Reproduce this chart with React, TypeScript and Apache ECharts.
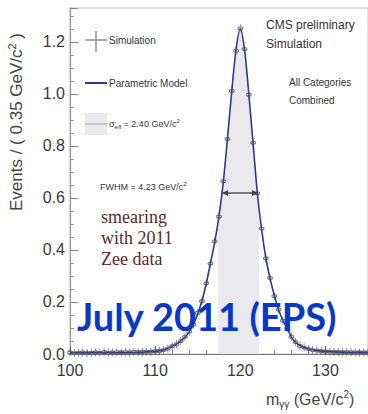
import React, { useEffect, useRef } from "react";
import * as echarts from "echarts";

// Parametric model curve: [mass (GeV/c^2), events]
const modelMass = [100, 102, 104, 106, 108, 109, 110, 111, 112, 112.5, 113, 113.5, 114, 114.5, 115, 115.5, 116, 116.5, 117, 117.5, 118, 118.5, 119, 119.5, 120, 120.5, 121, 121.5, 122, 122.5, 123, 123.5, 124, 124.5, 125, 125.5, 126, 126.5, 127, 127.5, 128, 129, 130, 131, 133, 135];
const modelValues = [0.005, 0.005, 0.006, 0.006, 0.007, 0.008, 0.010, 0.015, 0.030, 0.038, 0.050, 0.065, 0.085, 0.115, 0.155, 0.205, 0.27, 0.35, 0.43, 0.53, 0.66, 0.83, 1.01, 1.17, 1.25, 1.17, 1.00, 0.81, 0.62, 0.48, 0.37, 0.29, 0.225, 0.17, 0.13, 0.10, 0.065, 0.045, 0.032, 0.025, 0.019, 0.013, 0.010, 0.008, 0.007, 0.006];

// Simulation points
const simMass = [100, 100.5, 101, 101.5, 102, 102.5, 103, 103.5, 104, 104.5, 105, 105.5, 106, 106.5, 107, 107.5, 108, 108.5, 109, 109.5, 110, 110.5, 111, 111.5, 112, 112.5, 113, 113.5, 114, 114.5, 115, 115.5, 116, 116.5, 117, 117.5, 118, 118.5, 119, 119.5, 120, 120.5, 121, 121.5, 122, 122.5, 123, 123.5, 124, 124.5, 125, 125.5, 126, 126.5, 127, 127.5, 128, 128.5, 129, 129.5, 130, 130.5, 131, 131.5, 132, 132.5, 133, 133.5, 134, 134.5, 135];
const simValues = [0.006, 0.004, 0.005, 0.006, 0.004, 0.005, 0.006, 0.005, 0.007, 0.005, 0.006, 0.007, 0.006, 0.007, 0.006, 0.008, 0.007, 0.008, 0.009, 0.009, 0.011, 0.012, 0.015, 0.021, 0.030, 0.037, 0.050, 0.066, 0.086, 0.113, 0.158, 0.203, 0.272, 0.348, 0.433, 0.528, 0.664, 0.826, 1.012, 1.166, 1.252, 1.172, 0.997, 0.812, 0.618, 0.482, 0.368, 0.292, 0.223, 0.171, 0.128, 0.099, 0.066, 0.046, 0.031, 0.025, 0.019, 0.015, 0.013, 0.011, 0.010, 0.009, 0.008, 0.008, 0.007, 0.007, 0.007, 0.006, 0.006, 0.006, 0.006];

// sigma_eff band (under the model curve)
const bandMass = [117.4, 117.5, 118, 118.5, 119, 119.5, 120, 120.5, 121, 121.5, 122, 122.2];
const bandValues = [0.51, 0.53, 0.66, 0.83, 1.01, 1.17, 1.25, 1.17, 1.00, 0.81, 0.62, 0.56];

const xTicks = [100, 110, 120, 130];
const yTicks = ["0.0", "0.2", "0.4", "0.6", "0.8", "1.0", "1.2"];

const FONT = "Liberation Sans";

export default function App() {
  const ref = useRef<HTMLDivElement>(null);
  useEffect(() => {
    document.body.style.margin = "0";
    const chart = echarts.init(ref.current!, null, { renderer: "svg" });
    const simSymbol =
      "path://M5,0 L5,3.2 M5,6.8 L5,10 M5,3.2 A1.8,1.8 0 1,1 5,6.8 A1.8,1.8 0 1,1 5,3.2";
    chart.setOption({
      animation: false,
      backgroundColor: "#ffffff",
      grid: { left: 70, right: -2, top: 8, bottom: 60, show: true, borderColor: "#c4c4c4", borderWidth: 1 },
      xAxis: {
        type: "value",
        min: 100,
        max: 135,
        interval: 10,
        axisLine: { onZero: false, lineStyle: { color: "#777", width: 1.2 } },
        axisTick: { inside: true, length: 8, lineStyle: { color: "#777" } },
        minorTick: { show: true, splitNumber: 5, length: 4, lineStyle: { color: "#888" } },
        splitLine: { show: false },
        axisLabel: {
          color: "#3a3a3a",
          fontFamily: FONT,
          fontSize: 16,
          margin: 8,
          showMaxLabel: false,
          formatter: (v: number) => (xTicks.includes(v) ? String(v) : ""),
        },
      },
      yAxis: {
        type: "value",
        min: 0,
        max: 1.33,
        interval: 0.2,
        axisLine: { show: true, lineStyle: { color: "#999", width: 1.2 } },
        axisTick: { inside: true, length: 8, lineStyle: { color: "#888" } },
        minorTick: { show: true, splitNumber: 4, length: 4, lineStyle: { color: "#999" } },
        splitLine: { show: false },
        axisLabel: {
          color: "#3a3a3a",
          fontFamily: FONT,
          fontSize: 16,
          margin: 5,
          showMaxLabel: false,
          formatter: (v: number) => {
            const s = v.toFixed(1);
            return yTicks.includes(s) ? s : "";
          },
        },
      },
      series: [
        {
          type: "line",
          name: "band",
          data: bandMass.map((m, i) => [m, bandValues[i]]),
          symbol: "none",
          lineStyle: { width: 0 },
          areaStyle: { color: "#e9e9ee", opacity: 1 },
          z: 1,
          silent: true,
        },
        {
          type: "line",
          name: "Parametric Model",
          data: modelMass.map((m, i) => [m, modelValues[i]]),
          symbol: "none",
          smooth: 0.3,
          lineStyle: { color: "#2f3b8a", width: 1.6 },
          z: 3,
        },
        {
          type: "scatter",
          name: "Simulation",
          data: simMass.map((m, i) => [m, simValues[i]]),
          symbol: simSymbol,
          symbolSize: [5, 8],
          itemStyle: { color: "rgba(0,0,0,0)", borderColor: "#4a4d60", borderWidth: 1 },
          z: 4,
        },
      ],
      graphic: [
        // y axis title
        {
          type: "text",
          x: 16,
          y: 122,
          rotation: Math.PI / 2,
          style: {
            text: "Events / ( 0.35 GeV/c{sup|2} )",
            fontFamily: FONT,
            fontSize: 17,
            fill: "#444",
            align: "center",
            verticalAlign: "middle",
            rich: { sup: { fontSize: 11, verticalAlign: "top", padding: [0, 0, 8, 0], fill: "#444", fontFamily: FONT } },
          },
        },
        // legend: Simulation
        { type: "line", shape: { x1: 85, y1: 40, x2: 107, y2: 40 }, style: { stroke: "#777", lineWidth: 1.2 } },
        { type: "line", shape: { x1: 96, y1: 31, x2: 96, y2: 52 }, style: { stroke: "#777", lineWidth: 1.2 } },
        { type: "text", x: 109, y: 40, style: { text: "Simulation", fontFamily: FONT, fontSize: 10, fill: "#333", verticalAlign: "middle" } },
        // legend: model
        { type: "line", shape: { x1: 85, y1: 83, x2: 107, y2: 83 }, style: { stroke: "#2f3b8a", lineWidth: 2 } },
        { type: "text", x: 109, y: 83, style: { text: "Parametric Model", fontFamily: FONT, fontSize: 10, fill: "#333", verticalAlign: "middle" } },
        // legend: sigma eff
        { type: "rect", shape: { x: 85, y: 113, width: 22, height: 22 }, style: { fill: "#e9e9ee" } },
        { type: "line", shape: { x1: 85, y1: 124, x2: 107, y2: 124 }, style: { stroke: "#aaa", lineWidth: 1 } },
        {
          type: "text",
          x: 109,
          y: 124,
          style: {
            text: "σ{sub|eff} = 2.40 GeV/c{sup|2}",
            fontFamily: FONT,
            fontSize: 9,
            fill: "#333",
            verticalAlign: "middle",
            rich: {
              sub: { fontSize: 6, padding: [6, 0, 0, 0], fill: "#333", fontFamily: FONT },
              sup: { fontSize: 6, padding: [0, 0, 6, 0], fill: "#333", fontFamily: FONT },
            },
          },
        },
        // FWHM
        {
          type: "text",
          x: 100,
          y: 187,
          style: {
            text: "FWHM = 4.23 GeV/c{sup|2}",
            fontFamily: FONT,
            fontSize: 9,
            fill: "#333",
            verticalAlign: "middle",
            rich: { sup: { fontSize: 6, padding: [0, 0, 6, 0], fill: "#333", fontFamily: FONT } },
          },
        },
        { type: "line", shape: { x1: 223, y1: 193, x2: 257, y2: 193 }, style: { stroke: "#555", lineWidth: 1.5 }, z: 10 },
        { type: "polygon", shape: { points: [[222, 193], [228, 190], [228, 196]] }, style: { fill: "#444" }, z: 10 },
        { type: "polygon", shape: { points: [[258, 193], [252, 190], [252, 196]] }, style: { fill: "#444" }, z: 10 },
        // CMS labels
        { type: "text", x: 266, y: 25, style: { text: "CMS preliminary", fontFamily: FONT, fontSize: 12, fill: "#333", verticalAlign: "middle" } },
        { type: "text", x: 266, y: 44, style: { text: "Simulation", fontFamily: FONT, fontSize: 12, fill: "#333", verticalAlign: "middle" } },
        { type: "text", x: 289, y: 82, style: { text: "All Categories", fontFamily: FONT, fontSize: 10, fill: "#333", verticalAlign: "middle" } },
        { type: "text", x: 289, y: 100, style: { text: "Combined", fontFamily: FONT, fontSize: 10, fill: "#333", verticalAlign: "middle" } },
        // smearing note
        {
          type: "text",
          x: 101,
          y: 238,
          style: {
            text: "smearing\nwith 2011\nZee data",
            fontFamily: "Liberation Serif",
            fontSize: 18,
            lineHeight: 21,
            fill: "#5e2a2a",
            verticalAlign: "middle",
          },
        },
        // title stamp
        {
          type: "text",
          x: 77,
          y: 316,
          style: {
            text: "July 2011 (EPS)",
            fontFamily: "Lato",
            fontWeight: "bold",
            fontSize: 38,
            fill: "#0838c8",
            verticalAlign: "middle",
          },
          z: 20,
        },
        // x axis title
        {
          type: "text",
          x: 266,
          y: 399,
          style: {
            text: "m{sub|γγ} (GeV/c{sup|2})",
            fontFamily: FONT,
            fontSize: 16,
            fill: "#444",
            verticalAlign: "middle",
            rich: {
              sub: { fontSize: 10, padding: [10, 0, 0, 0], fill: "#444", fontFamily: FONT },
              sup: { fontSize: 10, padding: [0, 0, 10, 0], fill: "#444", fontFamily: FONT },
            },
          },
        },
      ],
    });
    return () => chart.dispose();
  }, []);
  return <div ref={ref} style={{ width: 368, height: 414 }} />;
}
